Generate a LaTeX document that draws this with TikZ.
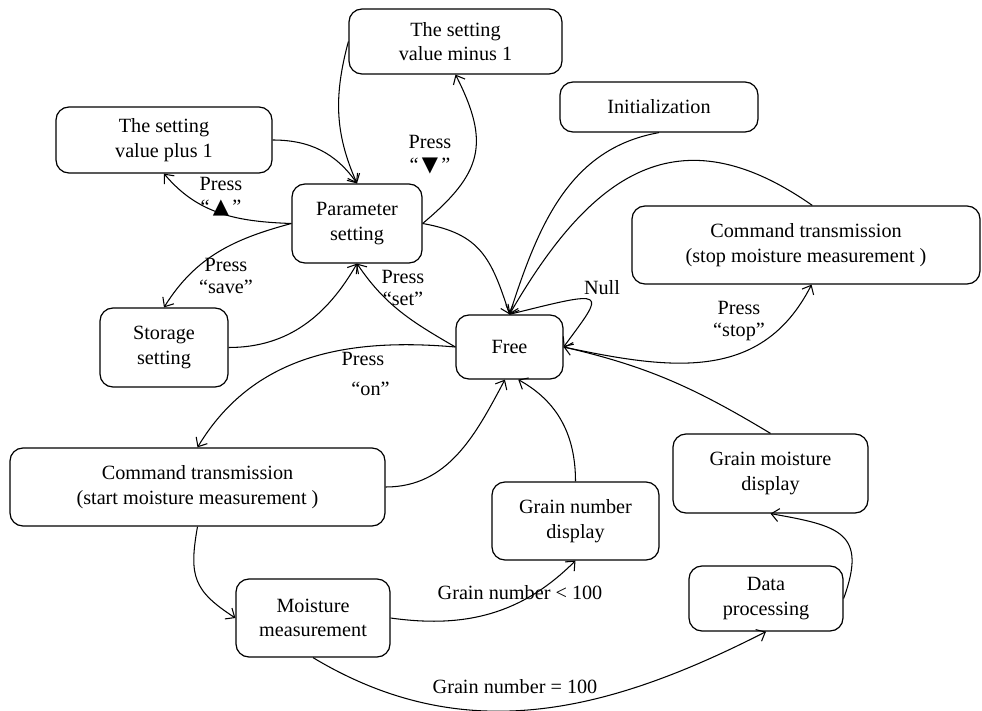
\documentclass[tikz,border=0pt]{standalone}
\usepackage{fontspec}
\setmainfont{Liberation Serif}
\newfontfamily\symfont{DejaVu Sans}
\usepackage{tikz}
\usetikzlibrary{arrows.meta}
\usetikzlibrary{positioning}
\tikzstyle{every node}+=[inner sep=0pt]
\tikzstyle{block} = [rectangle, draw, line width=0.7pt, text centered, rounded corners=2.6mm, font=\fontsize{11.5}{14}\selectfont]
\tikzstyle{line} = [draw, line width=0.6pt, -{Straight Barb[length=1.5mm,width=2.6mm]}]
\tikzstyle{value} = [font=\fontsize{11.5}{13}\selectfont]
\newcommand{\uptri}{{\symfont\fontsize{12}{12}\selectfont ▲}}
\newcommand{\downtri}{{\symfont\fontsize{12}{12}\selectfont ▼}}

\begin{document}
\begin{tikzpicture}[node distance = 2cm, auto, every text node part/.style={align=center}]
            \useasboundingbox (-10.19,-7.26) rectangle (9.45,6.94);
            % Place nodes
            \node [block, minimum width=2.14cm, minimum height=1.28cm] (free) {Free};
            \node [block, above of=free, node distance=2.47cm, xshift=-3.05cm, minimum width=2.6cm, minimum height=1.58cm] (param) {Parameter\\setting};
            \node [block, above of=param, node distance=1.67cm, xshift=-3.86cm, minimum width=4.32cm, minimum height=1.32cm] (plus) {The setting\\value plus 1};
            \node [block, above of=param, node distance=3.64cm, xshift=1.97cm, minimum width=4.26cm, minimum height=1.3cm] (minus) {The setting\\value minus 1};
            \node [block, below of=param, node distance=2.48cm, xshift=-3.86cm, minimum width=2.56cm, minimum height=1.58cm] (store) {Storage\\setting};
            \node [block, above of=free, node distance=4.8cm, xshift=2.99cm, minimum width=3.96cm, minimum height=1cm] (init) {Initialization};
            \node [block, above of=free, node distance=2.04cm, xshift=5.93cm, minimum width=6.96cm, minimum height=1.56cm] (stop) {Command transmission\\(stop moisture measurement )};
            \node [block, below of=free, node distance=2.8cm, xshift=-6.24cm, minimum width=7.5cm, minimum height=1.56cm] (start) {Command transmission\\(start moisture measurement )};
            \node [block, below of=start, node distance=2.62cm, xshift=2.31cm, minimum width=3.08cm, minimum height=1.56cm] (moist) {Moisture\\measurement};
            \node [block, below of=free, node distance=3.48cm, xshift=1.32cm, minimum width=3.34cm, minimum height=1.56cm] (gnum) {Grain number\\display};
            \node [block, below of=free, node distance=2.53cm, xshift=5.22cm, minimum width=3.9cm, minimum height=1.58cm] (gmoist) {Grain moisture\\display};
            \node [block, below of=gmoist, node distance=2.5cm, xshift=-0.09cm, minimum width=3.08cm, minimum height=1.3cm] (proc) {Data\\processing};
            % Place labels
            \node [value, left of=param, node distance=2.72cm, yshift=0.53cm] (kup) {Press\\“\,\uptri\,”};
            \node [value, right of=param, node distance=1.46cm, yshift=1.37cm] (kdown) {Press\\“\,\downtri\,”};
            \node [value, left of=param, node distance=2.62cm, yshift=-1.05cm] (ksave) {Press\\“save”};
            \node [value, right of=param, node distance=0.92cm, yshift=-1.29cm] (kset) {Press\\“set”};
            \node [value, left of=free, node distance=2.93cm, yshift=-0.54cm] (kon) {Press\\[4pt]\hspace{0.3cm}“on”};
            \node [value, right of=free, node distance=4.59cm, yshift=0.52cm] (kstop) {Press\\“stop”};
            \node [value, right of=free, node distance=1.85cm, yshift=1.18cm] (knull) {Null};
            \node [value, below of=free, node distance=4.92cm, xshift=0.21cm] (kless) {Grain number < 100};
            \node [value, below of=free, node distance=6.8cm, xshift=0.11cm] (kfull) {Grain number = 100};
            % Draw edges
            \path [line] (param.west) to[out=178, in=-50] (plus.south);
            \path [line] (plus.east) to[out=0, in=125] (param.north);
            \path [line] (minus.west) to[out=-105, in=114] (param.north);
            \path [line] (param.east) to[out=40, in=-63, looseness=1.3] (minus.south);
            \path [line] (param.east) to[out=-10, in=108, looseness=1.2] (free.north);
            \path [line] (init.south) to[out=190, in=72] (free.north);
            \path [line] (stop.81) to[out=145, in=60, looseness=1.3] (free.north);
            \path [line] (free.north) .. controls +(2.0,0.5) and +(0.84,1.14) .. (free.east);
            \path [line] (free.east) to[out=-12, in=-117, looseness=1.1] (stop.-82);
            \path [line] (gmoist.north) to[out=149, in=-13] (free.east);
            \path [line] (free.west) to[out=175, in=59] (start.north);
            \path [line] (start.east) to[out=0, in=-118] (free.-98);
            \path [line] (free.west) to[out=150, in=-56] (param.south);
            \path [line] (param.west) to[out=195, in=58] (store.north);
            \path [line] (store.east) to[out=0, in=-120] (param.south);
            \path [line] (start.south) to[out=-100, in=147, looseness=1.3] (moist.west);
            \path [line] (moist.east) to[out=-8, in=-135] (gnum.south);
            \path [line] (gnum.north) to[out=90, in=-29] (free.-75);
            \path [line] (moist.south) to[out=-31, in=-153] (proc.south);
            \path [line] (proc.east) to[out=70, in=-10, looseness=1.6] (gmoist.south);
\end{tikzpicture}
\end{document}
